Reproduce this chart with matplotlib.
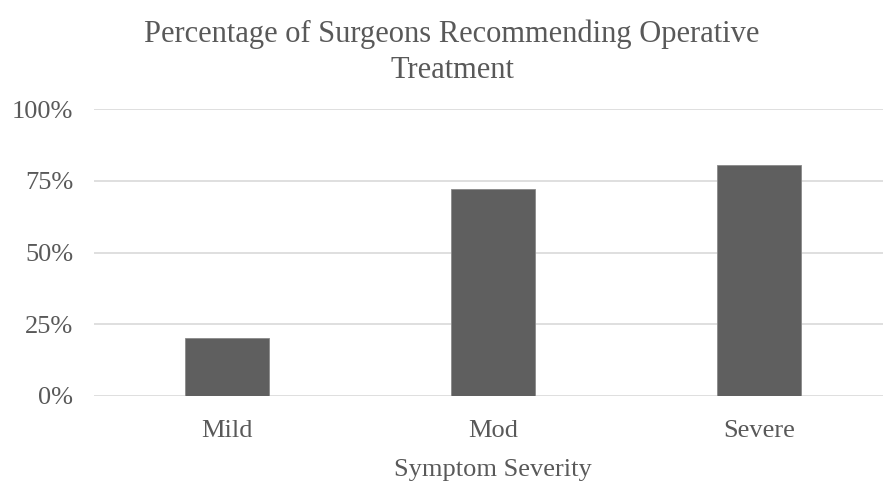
#!/usr/bin/env python3
"""Percentage of surgeons recommending operative treatment"""
import matplotlib.pyplot as plt
from matplotlib.ticker import PercentFormatter

categories = ["Mild", "Mod", "Severe"]
values = [20.2, 72.1, 80.4]
yticks = [0, 25, 50, 75, 100]

W, H = 883, 483
fig = plt.figure(figsize=(W / 100, H / 100), dpi=100)
plt.rcParams['font.family'] = ['Liberation Serif', 'DejaVu Serif']
txt = '#595959'

# axes box in pixels: x 94..892, y 109..396
ax = fig.add_axes([94 / W, 1 - 396 / H, 798 / W, (396 - 109) / H])
ax.bar(range(len(categories)), values, width=0.316, color='#5f5f5f',
       edgecolor='#8a8a8a', linewidth=0.6, zorder=3)
ax.set_xlim(-0.5, 2.5)
ax.set_ylim(0, 100)
ax.set_yticks(yticks)
ax.yaxis.set_major_formatter(PercentFormatter(decimals=0))
ax.set_xticks(range(len(categories)))
ax.set_xticklabels(categories)
ax.grid(axis='y', color='#d9d9d9', linewidth=1.2, zorder=0)
for s in ax.spines.values():
    s.set_visible(False)
ax.tick_params(length=0, labelsize=19, colors=txt)
ax.tick_params(axis='y', pad=15)
ax.tick_params(axis='x', pad=17)

fig.text(452 / W, 1 - 52 / H, "Percentage of Surgeons Recommending Operative\nTreatment",
         ha='center', va='center', fontsize=22, color=txt, linespacing=1.32)
fig.text(493 / W, 1 - 470 / H, "Symptom Severity", ha='center', va='center',
         fontsize=19, color=txt)

fig.savefig("out.png", dpi=100)
